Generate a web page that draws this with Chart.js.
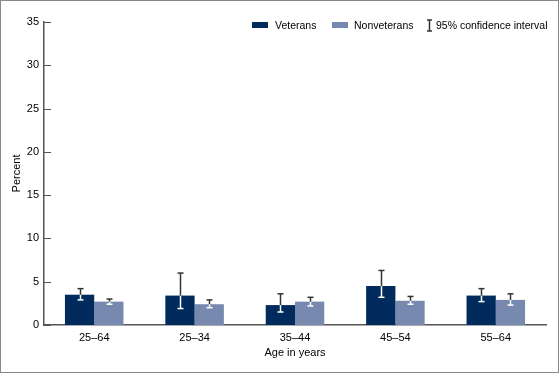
<!DOCTYPE html>
<html>
<head>
<meta charset="utf-8">
<script src="https://cdn.jsdelivr.net/npm/chart.js@4"></script>
<style>
  html, body { margin: 0; padding: 0; background: #fff; }
  #wrap { width: 560px; height: 374px; position: relative; }
</style>
</head>
<body>
<div id="wrap"><canvas id="chart" width="560" height="374"></canvas></div>
<script>
// age groups
const ageGroups = ['25\u201364', '25\u201334', '35\u201344', '45\u201354', '55\u201364'];

// percent values
const veterans = [3.5, 3.4, 2.3, 4.5, 3.4];
const nonveterans = [2.7, 2.4, 2.7, 2.8, 2.9];

// 95% confidence intervals
const veteransLow = [2.9, 1.9, 1.5, 3.2, 2.7];
const veteransHigh = [4.2, 6.0, 3.6, 6.3, 4.2];
const nonveteransLow = [2.4, 2.0, 2.2, 2.4, 2.3];
const nonveteransHigh = [3.0, 2.9, 3.2, 3.3, 3.6];

const yTicks = [0, 5, 10, 15, 20, 25, 30, 35];

const VET_COLOR = '#002b5c';
const NONVET_COLOR = '#7889b0';
const AXIS_COLOR = '#555';
const FONT = 'Liberation Sans, Arial, sans-serif';

const intervals = [
    { low: veteransLow, high: veteransHigh },
    { low: nonveteransLow, high: nonveteransHigh }
];

// error bars: dark above the bar, white inside it
const errorBars = {
    id: 'errorBars',
    afterDatasetsDraw(chart) {
        const ctx = chart.ctx;
        const y = chart.scales.y;
        ctx.save();
        ctx.lineWidth = 1.5;
        chart.data.datasets.forEach((ds, i) => {
            const meta = chart.getDatasetMeta(i);
            meta.data.forEach((bar, j) => {
                const x = Math.round(bar.x) + 0.5;
                const top = bar.y;
                const yLo = y.getPixelForValue(intervals[i].low[j]);
                const yHi = y.getPixelForValue(intervals[i].high[j]);
                const seg = (a, b, c) => {
                    ctx.strokeStyle = c;
                    ctx.beginPath(); ctx.moveTo(x, a); ctx.lineTo(x, b); ctx.stroke();
                };
                const cap = (yy, c) => {
                    ctx.strokeStyle = c;
                    ctx.beginPath(); ctx.moveTo(x - 3, yy); ctx.lineTo(x + 3, yy); ctx.stroke();
                };
                seg(top, yLo, '#fff');
                seg(yHi, top, '#333');
                cap(yLo, yLo > top ? '#fff' : '#333');
                cap(yHi, yHi > top ? '#fff' : '#333');
            });
        });
        ctx.restore();
    }
};

// inward y ticks, legend and outer frame
const decorations = {
    id: 'decorations',
    afterDraw(chart) {
        const ctx = chart.ctx;
        const y = chart.scales.y;
        const left = chart.chartArea.left;
        ctx.save();
        ctx.strokeStyle = AXIS_COLOR;
        ctx.lineWidth = 1;
        yTicks.forEach(v => {
            const py = Math.round(y.getPixelForValue(v)) + 0.5;
            ctx.beginPath(); ctx.moveTo(left, py); ctx.lineTo(left + 7, py); ctx.stroke();
        });

        // legend
        ctx.font = '10.5px ' + FONT;
        ctx.textBaseline = 'middle';
        ctx.fillStyle = VET_COLOR;
        ctx.fillRect(252, 22, 16, 6);
        ctx.fillStyle = '#000';
        ctx.fillText('Veterans', 275, 26);
        ctx.fillStyle = NONVET_COLOR;
        ctx.fillRect(332, 22, 16, 6);
        ctx.fillStyle = '#000';
        ctx.fillText('Nonveterans', 354, 26);
        ctx.strokeStyle = '#333';
        ctx.lineWidth = 1.5;
        ctx.beginPath();
        ctx.moveTo(429.5, 20); ctx.lineTo(429.5, 31);
        ctx.moveTo(427, 20); ctx.lineTo(432, 20);
        ctx.moveTo(427, 31); ctx.lineTo(432, 31);
        ctx.stroke();
        ctx.fillStyle = '#000';
        ctx.fillText('95% confidence interval', 436, 26);

        // frame
        ctx.strokeStyle = '#888';
        ctx.lineWidth = 1;
        ctx.strokeRect(0.5, 0.5, 558, 372);
        ctx.restore();
    }
};

new Chart(document.getElementById('chart').getContext('2d'), {
    type: 'bar',
    data: {
        labels: ageGroups,
        datasets: [
            { label: 'Veterans', data: veterans, backgroundColor: VET_COLOR },
            { label: 'Nonveterans', data: nonveterans, backgroundColor: NONVET_COLOR }
        ]
    },
    options: {
        responsive: false,
        animation: false,
        events: [],
        layout: { padding: { left: 0, right: 14, top: 22, bottom: 0 } },
        datasets: { bar: { categoryPercentage: 0.583, barPercentage: 1.0 } },
        plugins: { legend: { display: false }, tooltip: { enabled: false } },
        scales: {
            x: {
                grid: { display: false, drawTicks: false },
                border: { display: true, color: AXIS_COLOR, width: 1.5 },
                ticks: { color: '#000', font: { family: FONT, size: 11 }, padding: 6 },
                title: { display: true, text: 'Age in years', color: '#000', font: { family: FONT, size: 11 }, padding: { top: 2, bottom: 14 } },
                afterFit(scale) { scale.height = 49; }
            },
            y: {
                min: 0,
                max: 35,
                grid: { display: false, drawTicks: false },
                border: { display: true, color: AXIS_COLOR, width: 1.5 },
                ticks: {
                    stepSize: 5,
                    color: '#000',
                    padding: 5,
                    font: { family: FONT, size: 11 }
                },
                afterBuildTicks(scale) { scale.ticks = yTicks.map(v => ({ value: v })); },
                title: { display: true, text: 'Percent', color: '#000', font: { family: FONT, size: 11 }, padding: { top: 10, bottom: 0 } },
                afterFit(scale) { scale.width = 44; }
            }
        }
    },
    plugins: [errorBars, decorations]
});
</script>
</body>
</html>
